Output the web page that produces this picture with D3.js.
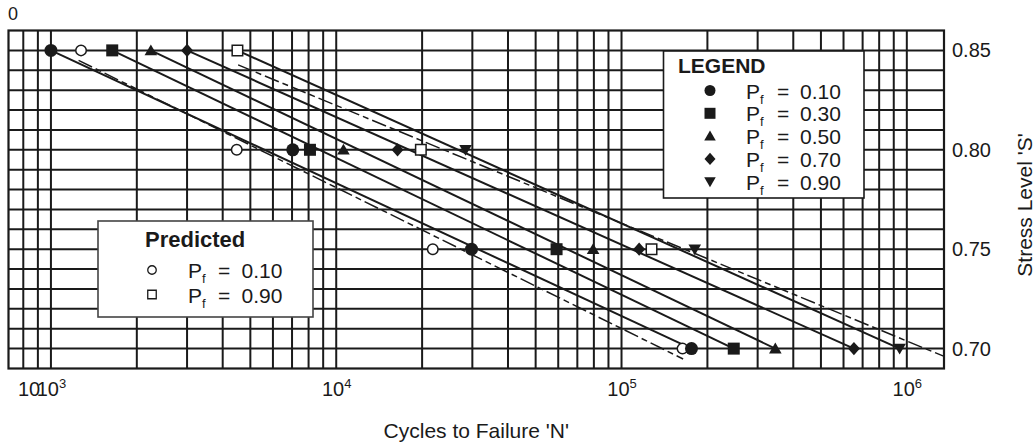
<!DOCTYPE html>
<html>
<head>
<meta charset="utf-8">
<script src="https://cdn.jsdelivr.net/npm/d3@7"></script>
<style>
  html, body { margin: 0; padding: 0; background: #fff; }
  svg { display: block; font-family: "Liberation Sans", Arial, Helvetica, sans-serif; }
</style>
</head>
<body>
<svg id="chart" width="1036" height="447"></svg>
<script>
// ---- Data ---------------------------------------------------------------
// Stress levels S at which specimens were tested
const stressLevels = [0.85, 0.80, 0.75, 0.70];

// Cycles to failure N for each probability of failure Pf (observed)
const pfLabels   = ["0.10", "0.30", "0.50", "0.70", "0.90"];
const cyclesPf10 = [1000, 7040, 29800, 175900];
const cyclesPf30 = [1640, 8090, 59200, 247400];
const cyclesPf50 = [2240, 10600, 79500, 346000];
const cyclesPf70 = [3000, 16400, 115300, 652600];
const cyclesPf90 = [null, 28400, 180600, 943500];

// Fitted S-N lines: N at S = 0.85 and at S = 0.70
const fitStress  = [0.85, 0.70];
const fitStartN  = [1000, 1640, 2240, 3000, 4500];
const fitEndN    = [175900, 247400, 346000, 652600, 943500];

// Predicted values
const predictedLabels = ["0.10", "0.90"];
const predictedPf10 = [1275, 4480, 21800, 163600];
const predictedPf90 = [4505, 19800, 127400, null];

// Predicted S-N lines (dashed): [N, S] end points
const predLineLowN  = [1250, 164400];
const predLineLowS  = [0.845, 0.6948];
const predLineHighN = [4530, 1345000];
const predLineHighS = [0.8427, 0.6962];

// Axes
const xDomain = [710, 1350000];
const yDomain = [0.69, 0.86];
const xTickValues = [1e3, 1e4, 1e5, 1e6];
const xTickExponents = ["3", "4", "5", "6"];
const yTickValues = [0.85, 0.80, 0.75, 0.70];
const yGridValues = [0.70, 0.71, 0.72, 0.73, 0.74, 0.75, 0.76, 0.77, 0.78, 0.79, 0.80, 0.81, 0.82, 0.83, 0.84, 0.85];

// ---- Layout -------------------------------------------------------------
const plot = { left: 8.5, right: 944, top: 30.5, bottom: 368.5 };
const ink = "#1a1a1a";

const svg = d3.select("#chart");
const x = d3.scaleLog().domain(xDomain).range([plot.left, plot.right]);
const y = d3.scaleLinear().domain(yDomain).range([plot.bottom, plot.top]);

// marker shapes
const markerTypes = ["circle", "square", "triangleUp", "diamond", "triangleDown"];
function markerPath(type, s) {
  const h = s / 2;
  switch (type) {
    case "circle":
      return d3.symbol(d3.symbolCircle, Math.PI * h * h)();
    case "square":
      return `M${-h},${-h}H${h}V${h}H${-h}Z`;
    case "triangleUp":
      return `M0,${-h}L${h * 1.05},${h * 0.8}L${-h * 1.05},${h * 0.8}Z`;
    case "triangleDown":
      return `M0,${h}L${h * 1.05},${-h * 0.8}L${-h * 1.05},${-h * 0.8}Z`;
    case "diamond":
      return `M0,${-h * 1.1}L${h},0L0,${h * 1.1}L${-h},0Z`;
  }
}

// ---- Grid ---------------------------------------------------------------
const grid = svg.append("g");
grid.selectAll("line.v")
  .data(x.ticks().filter(d => d > xDomain[0] && d < xDomain[1]))
  .join("line")
  .attr("x1", d => x(d)).attr("x2", d => x(d))
  .attr("y1", plot.top).attr("y2", plot.bottom)
  .attr("stroke", ink).attr("stroke-width", 2);
grid.selectAll("line.h")
  .data(yGridValues)
  .join("line")
  .attr("x1", plot.left).attr("x2", plot.right)
  .attr("y1", d => y(d)).attr("y2", d => y(d))
  .attr("stroke", ink).attr("stroke-width", 2);
svg.append("rect")
  .attr("x", plot.left).attr("y", plot.top)
  .attr("width", plot.right - plot.left).attr("height", plot.bottom - plot.top)
  .attr("fill", "none").attr("stroke", ink).attr("stroke-width", 2.2);

// ---- Lines --------------------------------------------------------------
svg.append("clipPath").attr("id", "plotClip")
  .append("rect")
  .attr("x", plot.left).attr("y", plot.top)
  .attr("width", plot.right - plot.left).attr("height", plot.bottom - plot.top);

const line = d3.line().x(d => x(d[0])).y(d => y(d[1]));
const lines = svg.append("g").attr("clip-path", "url(#plotClip)");

// predicted (dashed)
[[predLineLowN, predLineLowS], [predLineHighN, predLineHighS]].forEach(([ns, ss]) => {
  lines.append("path")
    .attr("d", line(ns.map((n, i) => [n, ss[i]])))
    .attr("fill", "none").attr("stroke", ink)
    .attr("stroke-width", 1.5)
    .attr("stroke-dasharray", "15 4 6 4");
});

// fitted (solid)
fitStartN.forEach((n0, i) => {
  lines.append("path")
    .attr("d", line([[n0, fitStress[0]], [fitEndN[i], fitStress[1]]]))
    .attr("fill", "none").attr("stroke", ink).attr("stroke-width", 2);
});

// ---- Markers ------------------------------------------------------------
const observed = [cyclesPf10, cyclesPf30, cyclesPf50, cyclesPf70, cyclesPf90];
const marks = svg.append("g");

// predicted open markers
[[predictedPf10, "circle"], [predictedPf90, "square"]].forEach(([vals, type]) => {
  marks.selectAll(null)
    .data(vals.map((n, i) => [n, stressLevels[i]]).filter(d => d[0] != null))
    .join("path")
    .attr("transform", d => `translate(${x(d[0])},${y(d[1])})`)
    .attr("d", markerPath(type, 10.5))
    .attr("fill", "#fff").attr("stroke", ink).attr("stroke-width", 1.5);
});

observed.forEach((vals, k) => {
  marks.selectAll(null)
    .data(vals.map((n, i) => [n, stressLevels[i]]).filter(d => d[0] != null))
    .join("path")
    .attr("transform", d => `translate(${x(d[0])},${y(d[1])})`)
    .attr("d", markerPath(markerTypes[k], k === 0 ? 13 : 12))
    .attr("fill", ink);
});

// ---- Axes ---------------------------------------------------------------
const xAxis = svg.append("g")
  .attr("transform", `translate(0,${plot.bottom})`)
  .call(d3.axisBottom(x).tickValues(xTickValues).tickSize(0).tickFormat(() => ""));
xAxis.select(".domain").remove();
xAxis.selectAll(".tick text").each(function (d, i) {
  const t = d3.select(this)
    .attr("y", 27.5).attr("dy", null)
    .attr("font-size", 20).attr("fill", ink)
    .attr("font-family", "Liberation Sans, Arial, sans-serif");
  t.append("tspan").text("10");
  t.append("tspan").attr("dy", -8).attr("font-size", 13).text(xTickExponents[i]);
});
svg.append("text")
  .attr("x", plot.left + 9.5).attr("y", plot.bottom + 27.5)
  .attr("font-size", 20).attr("fill", ink)
  .text("10");

const yAxis = svg.append("g")
  .attr("transform", `translate(${plot.right},0)`)
  .call(d3.axisRight(y).tickValues(yTickValues).tickSize(0).tickPadding(8).tickFormat(d3.format(".2f")));
yAxis.select(".domain").remove();
yAxis.selectAll(".tick text")
  .attr("font-size", 20).attr("fill", ink)
  .attr("font-family", "Liberation Sans, Arial, sans-serif");

svg.append("text")
  .attr("x", 8).attr("y", 20)
  .attr("font-size", 18).attr("fill", ink)
  .text("0");

svg.append("text")
  .attr("x", (plot.left + plot.right) / 2).attr("y", 438)
  .attr("text-anchor", "middle")
  .attr("font-size", 21).attr("fill", ink)
  .text("Cycles to Failure 'N'");

svg.append("text")
  .attr("transform", "translate(1032,205) rotate(-90)")
  .attr("text-anchor", "middle")
  .attr("font-size", 21).attr("fill", ink)
  .text("Stress Level 'S'");

// ---- Legend boxes -------------------------------------------------------
function pfEntry(g, tx, ty, value, eqX, valX) {
  const t = g.append("text").attr("x", tx).attr("y", ty)
    .attr("font-size", 21).attr("fill", ink);
  t.append("tspan").text("P");
  t.append("tspan").attr("dy", 5).attr("font-size", 13).text("f");
  g.append("text").attr("x", eqX).attr("y", ty).attr("font-size", 21).attr("fill", ink).text("=");
  g.append("text").attr("x", valX).attr("y", ty).attr("font-size", 21).attr("fill", ink).text(value);
}

const legend = svg.append("g");
legend.append("rect")
  .attr("x", 663.5).attr("y", 51).attr("width", 200.5).attr("height", 147)
  .attr("fill", "#fff").attr("stroke", ink).attr("stroke-width", 1.6);
legend.append("text")
  .attr("x", 678).attr("y", 73)
  .attr("font-size", 21).attr("font-weight", "bold").attr("fill", ink)
  .text("LEGEND");
pfLabels.forEach((lab, i) => {
  const cy = 90.5 + i * 22.8;
  legend.append("path")
    .attr("transform", `translate(710,${cy})`)
    .attr("d", markerPath(markerTypes[i], 11))
    .attr("fill", ink);
  pfEntry(legend, 746, cy + 8, lab, 777, 800);
});

const pred = svg.append("g");
pred.append("rect")
  .attr("x", 98).attr("y", 221).attr("width", 215).attr("height", 96)
  .attr("fill", "#fff").attr("stroke", "#444").attr("stroke-width", 1.6);
pred.append("text")
  .attr("x", 145).attr("y", 247)
  .attr("font-size", 22).attr("font-weight", "bold").attr("fill", ink)
  .text("Predicted");
predictedLabels.forEach((lab, i) => {
  const cy = 270 + i * 24.5;
  pred.append("path")
    .attr("transform", `translate(152,${cy})`)
    .attr("d", markerPath(i === 0 ? "circle" : "square", 8.5))
    .attr("fill", "#fff").attr("stroke", ink).attr("stroke-width", 1.3);
  pfEntry(pred, 188, cy + 8, lab, 218, 241.5);
});
</script>
</body>
</html>
